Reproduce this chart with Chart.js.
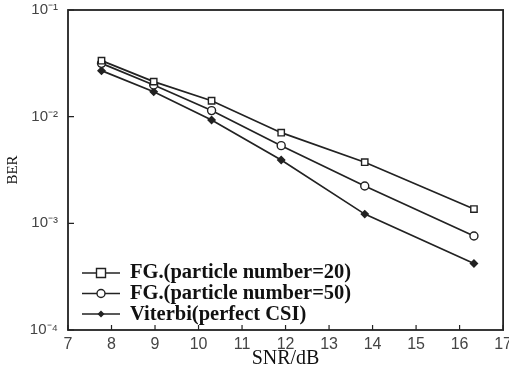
<!DOCTYPE html>
<html>
<head>
<meta charset="utf-8">
<script src="https://cdn.jsdelivr.net/npm/chart.js@4.4.0/dist/chart.umd.min.js"></script>
<style>
  html, body { margin: 0; padding: 0; background: #fff; }
</style>
</head>
<body>
<canvas id="berChart" width="509" height="372"></canvas>
<script>
// values
let seriesLabels = ["FG.(particle number=20)", "FG.(particle number=50)", "Viterbi(perfect CSI)"];
let snrPoints = [7.77, 8.97, 10.30, 11.90, 13.82, 16.33];
let berFG20 = [0.0335, 0.0213, 0.0141, 0.00708, 0.00374, 0.00136];
let berFG50 = [0.0316, 0.0198, 0.0114, 0.00535, 0.00224, 0.00076];
let berViterbi = [0.0270, 0.0171, 0.0093, 0.00392, 0.00122, 0.00042];
let yTickValues = [1e-4, 1e-3, 1e-2, 1e-1];
let yTickLabels = ["10\u207B\u2074", "10\u207B\u00B3", "10\u207B\u00B2", "10\u207B\u00B9"];
let xTickValues = [7, 8, 9, 10, 11, 12, 13, 14, 15, 16, 17];

const ink = "#222";

function toPoints(xs, ys) {
    return xs.map((x, i) => ({ x: x, y: ys[i] }));
}

function drawMarker(ctx, style, x, y, r) {
    ctx.save();
    ctx.lineWidth = 1.4;
    ctx.strokeStyle = ink;
    ctx.fillStyle = "#fff";
    ctx.beginPath();
    if (style === "rect") {
        ctx.rect(x - r, y - r, 2 * r, 2 * r);
        ctx.fill();
        ctx.stroke();
    } else if (style === "circle") {
        ctx.arc(x, y, r, 0, Math.PI * 2);
        ctx.fill();
        ctx.stroke();
    } else {
        ctx.fillStyle = ink;
        ctx.moveTo(x, y - r);
        ctx.lineTo(x + r, y);
        ctx.lineTo(x, y + r);
        ctx.lineTo(x - r, y);
        ctx.closePath();
        ctx.fill();
    }
    ctx.restore();
}

// box round the plot, inward ticks, legend in the lower left corner
const framePlugin = {
    id: "frame",
    afterDraw(chart) {
        const ctx = chart.ctx;
        const area = chart.chartArea;
        const xs = chart.scales.x;
        const ys = chart.scales.y;

        ctx.save();
        ctx.strokeStyle = ink;
        ctx.lineWidth = 1.8;
        ctx.strokeRect(area.left, area.top, area.right - area.left, area.bottom - area.top);

        ctx.lineWidth = 1.2;
        ctx.beginPath();
        xTickValues.forEach(v => {
            let px = xs.getPixelForValue(v);
            ctx.moveTo(px, area.bottom);
            ctx.lineTo(px, area.bottom - 5);
        });
        yTickValues.forEach(v => {
            let py = ys.getPixelForValue(v);
            ctx.moveTo(area.left, py);
            ctx.lineTo(area.left + 6, py);
        });
        ctx.stroke();

        // legend
        let rowY = [273, 293.5, 314];
        let baseY = [277.5, 298.5, 320];
        ctx.font = "bold 20.5px 'Liberation Serif', 'Times New Roman', serif";
        ctx.textBaseline = "alphabetic";
        ctx.fillStyle = "#111";
        chart.data.datasets.forEach((ds, i) => {
            let y = rowY[i];
            ctx.lineWidth = 1.6;
            ctx.strokeStyle = ink;
            ctx.beginPath();
            ctx.moveTo(82, y);
            ctx.lineTo(120, y);
            ctx.stroke();
            drawMarker(ctx, ds.pointStyle, 101, y, ds.pointRadius);
            ctx.fillText(ds.label, 130, baseY[i]);
        });
        ctx.restore();
    }
};

const ctx = document.getElementById("berChart").getContext("2d");

const lineStyle = {
    borderColor: ink,
    borderWidth: 1.7,
    pointBorderColor: ink,
    pointBorderWidth: 1.4,
    tension: 0
};

let berChart = new Chart(ctx, {
    type: "line",
    data: {
        datasets: [
            Object.assign({
                label: seriesLabels[0],
                data: toPoints(snrPoints, berFG20),
                pointStyle: "rect",
                pointRadius: 4.5,
                pointBackgroundColor: "#fff"
            }, lineStyle),
            Object.assign({
                label: seriesLabels[1],
                data: toPoints(snrPoints, berFG50),
                pointStyle: "circle",
                pointRadius: 4,
                pointBackgroundColor: "#fff"
            }, lineStyle),
            Object.assign({
                label: seriesLabels[2],
                data: toPoints(snrPoints, berViterbi),
                pointStyle: "rectRot",
                pointRadius: 3.5,
                pointBackgroundColor: ink
            }, lineStyle)
        ]
    },
    options: {
        responsive: false,
        animation: false,
        layout: { padding: { top: 10, right: 3, left: 0, bottom: 0 } },
        plugins: {
            legend: { display: false },
            tooltip: { enabled: false }
        },
        scales: {
            x: {
                type: "linear",
                min: 7,
                max: 17,
                afterBuildTicks: scale => { scale.ticks = xTickValues.map(v => ({ value: v })); },
                afterFit: scale => {
                    scale.height = 42;
                    scale.paddingLeft = 0;
                    scale.paddingRight = 0;
                },
                grid: { display: false, drawTicks: false },
                border: { display: false },
                ticks: {
                    padding: 5,
                    color: "#444",
                    font: { family: "'Liberation Sans', Arial, sans-serif", size: 16 },
                    maxRotation: 0
                },
                title: {
                    display: true,
                    text: "SNR/dB",
                    color: "#111",
                    font: { family: "'Liberation Serif', 'Times New Roman', serif", size: 20 },
                    padding: { top: 0, bottom: 1 }
                }
            },
            y: {
                type: "logarithmic",
                min: 1e-4,
                max: 1e-1,
                afterBuildTicks: scale => { scale.ticks = yTickValues.map(v => ({ value: v })); },
                afterFit: scale => {
                    scale.width = 68;
                    scale.paddingTop = 0;
                    scale.paddingBottom = 0;
                },
                grid: { display: false, drawTicks: false },
                border: { display: false },
                ticks: {
                    padding: 10,
                    color: "#444",
                    font: { family: "'Liberation Sans', Arial, sans-serif", size: 15 },
                    callback: function (value) {
                        let i = yTickValues.indexOf(value);
                        return i >= 0 ? yTickLabels[i] : "";
                    }
                },
                title: {
                    display: true,
                    text: "BER",
                    color: "#111",
                    font: { family: "'Liberation Serif', 'Times New Roman', serif", size: 15 },
                    padding: { top: 4, bottom: 0 }
                }
            }
        }
    },
    plugins: [framePlugin]
});
</script>
</body>
</html>
